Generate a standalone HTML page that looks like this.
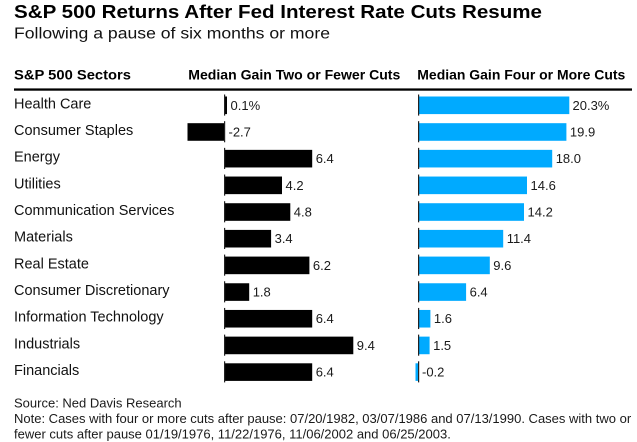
<!DOCTYPE html>
<html>
<head>
<meta charset="utf-8">
<style>
  html,body{margin:0;padding:0;background:#fff;}
  svg{display:block;}
  text{font-family:"Liberation Sans", Arial, sans-serif;fill:#111;}
  .t{font-weight:bold;font-size:18px;fill:#000;}
  .st{font-size:15.5px;fill:#111;}
  .h{font-weight:bold;font-size:13.5px;fill:#000;}
  .lbl{font-size:14.5px;fill:#111;}
  .v{font-size:13px;fill:#1a1a1a;}
  .f{font-size:13px;fill:#1a1a1a;}
</style>
</head>
<body>
<svg width="637" height="442" viewBox="0 0 637 442" xmlns="http://www.w3.org/2000/svg">
  <rect x="0" y="0" width="637" height="442" fill="#fff"/>
  <text class="t" x="14" y="18" textLength="528" lengthAdjust="spacingAndGlyphs">S&amp;P 500 Returns After Fed Interest Rate Cuts Resume</text>
  <text class="st" x="14" y="38.5" textLength="316" lengthAdjust="spacingAndGlyphs">Following a pause of six months or more</text>

  <text class="h" x="14" y="79.3" textLength="117" lengthAdjust="spacingAndGlyphs">S&amp;P 500 Sectors</text>
  <text class="h" x="188.3" y="79.3" textLength="212" lengthAdjust="spacingAndGlyphs">Median Gain Two or Fewer Cuts</text>
  <text class="h" x="417.3" y="79.3" textLength="208" lengthAdjust="spacingAndGlyphs">Median Gain Four or More Cuts</text>
  <rect x="14" y="88.4" width="618" height="2.3" fill="#000"/>

  <!-- Row 0: Health Care -->
  <text class="lbl" x="14" y="108.3">Health Care</text>
  <rect x="224.5" y="96.5" width="2.5" height="17.6" fill="#000"/>
  <rect x="224" y="94.5" width="1.2" height="21.1" fill="#222"/>
  <text class="v" x="230.5" y="109.8">0.1%</text>
  <rect x="418.5" y="96.5" width="150.8" height="17.6" fill="#00aaff"/>
  <rect x="418" y="94.5" width="1.2" height="21.1" fill="#222"/>
  <text class="v" x="572.5" y="109.8">20.3%</text>

  <!-- Row 1: Consumer Staples -->
  <text class="lbl" x="14" y="135">Consumer Staples</text>
  <rect x="187.5" y="123.18" width="37" height="17.6" fill="#000"/>
  <rect x="224" y="121.18" width="1.2" height="21.1" fill="#222"/>
  <text class="v" x="228.5" y="136.5">-2.7</text>
  <rect x="418.5" y="123.18" width="147.9" height="17.6" fill="#00aaff"/>
  <rect x="418" y="121.18" width="1.2" height="21.1" fill="#222"/>
  <text class="v" x="569.9" y="136.5">19.9</text>

  <!-- Row 2: Energy -->
  <text class="lbl" x="14" y="161.7">Energy</text>
  <rect x="224.5" y="149.86" width="87.7" height="17.6" fill="#000"/>
  <rect x="224" y="147.86" width="1.2" height="21.1" fill="#222"/>
  <text class="v" x="315.7" y="163.2">6.4</text>
  <rect x="418.5" y="149.86" width="133.7" height="17.6" fill="#00aaff"/>
  <rect x="418" y="147.86" width="1.2" height="21.1" fill="#222"/>
  <text class="v" x="555.7" y="163.2">18.0</text>

  <!-- Row 3: Utilities -->
  <text class="lbl" x="14" y="188.3">Utilities</text>
  <rect x="224.5" y="176.54" width="57.5" height="17.6" fill="#000"/>
  <rect x="224" y="174.54" width="1.2" height="21.1" fill="#222"/>
  <text class="v" x="285.5" y="189.8">4.2</text>
  <rect x="418.5" y="176.54" width="108.5" height="17.6" fill="#00aaff"/>
  <rect x="418" y="174.54" width="1.2" height="21.1" fill="#222"/>
  <text class="v" x="530.5" y="189.8">14.6</text>

  <!-- Row 4: Communication Services -->
  <text class="lbl" x="14" y="215">Communication Services</text>
  <rect x="224.5" y="203.22" width="65.8" height="17.6" fill="#000"/>
  <rect x="224" y="201.22" width="1.2" height="21.1" fill="#222"/>
  <text class="v" x="293.8" y="216.5">4.8</text>
  <rect x="418.5" y="203.22" width="105.5" height="17.6" fill="#00aaff"/>
  <rect x="418" y="201.22" width="1.2" height="21.1" fill="#222"/>
  <text class="v" x="527.5" y="216.5">14.2</text>

  <!-- Row 5: Materials -->
  <text class="lbl" x="14" y="241.7">Materials</text>
  <rect x="224.5" y="229.9" width="46.6" height="17.6" fill="#000"/>
  <rect x="224" y="227.9" width="1.2" height="21.1" fill="#222"/>
  <text class="v" x="274.6" y="243.2">3.4</text>
  <rect x="418.5" y="229.9" width="84.7" height="17.6" fill="#00aaff"/>
  <rect x="418" y="227.9" width="1.2" height="21.1" fill="#222"/>
  <text class="v" x="506.7" y="243.2">11.4</text>

  <!-- Row 6: Real Estate -->
  <text class="lbl" x="14" y="268.4">Real Estate</text>
  <rect x="224.5" y="256.58" width="84.9" height="17.6" fill="#000"/>
  <rect x="224" y="254.58" width="1.2" height="21.1" fill="#222"/>
  <text class="v" x="312.9" y="269.9">6.2</text>
  <rect x="418.5" y="256.58" width="71.3" height="17.6" fill="#00aaff"/>
  <rect x="418" y="254.58" width="1.2" height="21.1" fill="#222"/>
  <text class="v" x="493.3" y="269.9">9.6</text>

  <!-- Row 7: Consumer Discretionary -->
  <text class="lbl" x="14" y="295.1">Consumer Discretionary</text>
  <rect x="224.5" y="283.26" width="24.7" height="17.6" fill="#000"/>
  <rect x="224" y="281.26" width="1.2" height="21.1" fill="#222"/>
  <text class="v" x="252.7" y="296.6">1.8</text>
  <rect x="418.5" y="283.26" width="47.6" height="17.6" fill="#00aaff"/>
  <rect x="418" y="281.26" width="1.2" height="21.1" fill="#222"/>
  <text class="v" x="469.6" y="296.6">6.4</text>

  <!-- Row 8: Information Technology -->
  <text class="lbl" x="14" y="321.7">Information Technology</text>
  <rect x="224.5" y="309.94" width="87.7" height="17.6" fill="#000"/>
  <rect x="224" y="307.94" width="1.2" height="21.1" fill="#222"/>
  <text class="v" x="315.7" y="323.2">6.4</text>
  <rect x="418.5" y="309.94" width="11.9" height="17.6" fill="#00aaff"/>
  <rect x="418" y="307.94" width="1.2" height="21.1" fill="#222"/>
  <text class="v" x="433.9" y="323.2">1.6</text>

  <!-- Row 9: Industrials -->
  <text class="lbl" x="14" y="348.4">Industrials</text>
  <rect x="224.5" y="336.62" width="128.8" height="17.6" fill="#000"/>
  <rect x="224" y="334.62" width="1.2" height="21.1" fill="#222"/>
  <text class="v" x="356.8" y="349.9">9.4</text>
  <rect x="418.5" y="336.62" width="11.1" height="17.6" fill="#00aaff"/>
  <rect x="418" y="334.62" width="1.2" height="21.1" fill="#222"/>
  <text class="v" x="433.1" y="349.9">1.5</text>

  <!-- Row 10: Financials -->
  <text class="lbl" x="14" y="375.1">Financials</text>
  <rect x="224.5" y="363.3" width="87.7" height="17.6" fill="#000"/>
  <rect x="224" y="361.3" width="1.2" height="21.1" fill="#222"/>
  <text class="v" x="315.7" y="376.6">6.4</text>
  <rect x="415.5" y="363.3" width="3" height="17.6" fill="#00aaff"/>
  <rect x="418" y="361.3" width="1.2" height="21.1" fill="#222"/>
  <text class="v" x="422" y="376.6">-0.2</text>

  <!-- Footer -->
  <text class="f" x="14" y="407.5">Source: Ned Davis Research</text>
  <text class="f" x="14" y="423">Note: Cases with four or more cuts after pause: 07/20/1982, 03/07/1986 and 07/13/1990. Cases with two or</text>
  <text class="f" x="14" y="438.5">fewer cuts after pause 01/19/1976, 11/22/1976, 11/06/2002 and 06/25/2003.</text>
</svg>
</body>
</html>
